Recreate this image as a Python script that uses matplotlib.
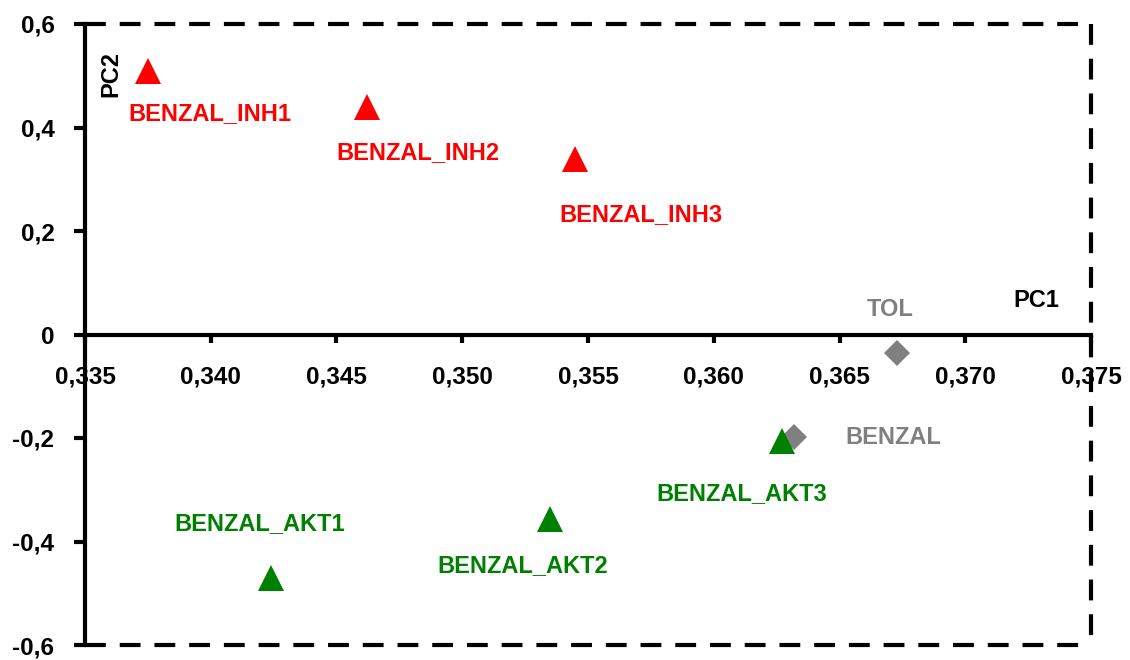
import matplotlib
matplotlib.use("Agg")
import matplotlib.pyplot as plt
from matplotlib.ticker import FixedLocator, FuncFormatter

plt.rcParams['font.family'] = ['Liberation Sans Narrow', 'Arial Narrow', 'Liberation Sans', 'DejaVu Sans']
plt.rcParams['font.weight'] = 'bold'
plt.rcParams['lines.scale_dashes'] = False

# Data
labels = ["BENZAL_INH1", "BENZAL_INH2", "BENZAL_INH3",
          "BENZAL_AKT1", "BENZAL_AKT2", "BENZAL_AKT3",
          "TOL", "BENZAL"]
pc1 = [0.3375, 0.3462, 0.3545, 0.3424, 0.3535, 0.3627, 0.3673, 0.3632]
pc2 = [0.51, 0.44, 0.34, -0.47, -0.357, -0.205, -0.035, -0.199]
groups = ["inh", "inh", "inh", "akt", "akt", "akt", "ref", "ref"]
x_ticks = [0.335, 0.340, 0.345, 0.350, 0.355, 0.360, 0.365, 0.370, 0.375]
y_ticks = [-0.6, -0.4, -0.2, 0, 0.2, 0.4, 0.6]

# Styles
colors = {"inh": "#FF0000", "akt": "#008000", "ref": "#808080"}
markers = {"inh": "^", "akt": "^", "ref": "D"}
msizes = {"inh": 18.5, "akt": 18.5, "ref": 13.5}
# label offsets in points (dx, dy)
offsets = [(45, -31), (37, -33), (47, -40), (-8, 39), (-20, -33), (-29, -38), (-5, 31), (71, 0)]

fig = plt.figure(figsize=(11.3, 6.6), dpi=100)
L, R, B, T = 85 / 1130, 1091 / 1130, 1 - 645 / 660, 1 - 24 / 660
ax = fig.add_axes([L, B, R - L, T - B])
ax.set_xlim(0.335, 0.375)
ax.set_ylim(-0.6, 0.6)

# draw ref points first, then triangles on top
order = [6, 7, 0, 1, 2, 3, 4, 5]
for i in order:
    g = groups[i]
    ax.plot(pc1[i], pc2[i], linestyle='none', marker=markers[g], markersize=msizes[g],
            color=colors[g], markeredgewidth=0, clip_on=False, zorder=3)
for i in range(len(labels)):
    g = groups[i]
    ax.annotate(labels[i], (pc1[i], pc2[i]), xytext=offsets[i], textcoords='offset points',
                ha='center', va='center', color=colors[g], fontsize=17, fontweight='bold')

# spines
for s in ['top', 'right']:
    ax.spines[s].set_visible(False)
ax.spines['left'].set_linewidth(3)
ax.spines['bottom'].set_linewidth(3)
ax.spines['bottom'].set_position(('data', 0))
ax.spines['left'].set_zorder(4)

# dashed frame: top, right, bottom
dash = (15, 10)
ax.plot([0, 1], [1, 1], transform=ax.transAxes, color='black', lw=3, dashes=dash, clip_on=False)
ax.plot([1, 1], [1, 0], transform=ax.transAxes, color='black', lw=3, dashes=dash, clip_on=False)
ax.plot([0, 1], [0, 0], transform=ax.transAxes, color='black', lw=3, dashes=dash, clip_on=False)

ax.xaxis.set_major_locator(FixedLocator(x_ticks))
ax.yaxis.set_major_locator(FixedLocator(y_ticks))
ax.xaxis.set_major_formatter(FuncFormatter(lambda v, p: f"{v:.3f}".replace('.', ',')))
def yfmt(v, p):
    if abs(v) < 1e-9:
        return "0"
    return f"{v:.1f}".replace('.', ',')
ax.yaxis.set_major_formatter(FuncFormatter(yfmt))
ax.tick_params(axis='x', direction='out', length=6, width=3, pad=16, labelsize=17.5)
ax.tick_params(axis='y', direction='out', length=8, width=3, pad=14, labelsize=17.5)
for t in ax.get_xticklabels() + ax.get_yticklabels():
    t.set_fontweight('bold')

ax.text(0.946, 0.555, "PC1", transform=ax.transAxes, ha='center', va='center',
        fontsize=17, fontweight='bold')
ax.text(0.0259, 0.919, "PC2", transform=ax.transAxes, ha='center', va='center',
        rotation=90, fontsize=17, fontweight='bold')

fig.savefig("out.png", dpi=100)
